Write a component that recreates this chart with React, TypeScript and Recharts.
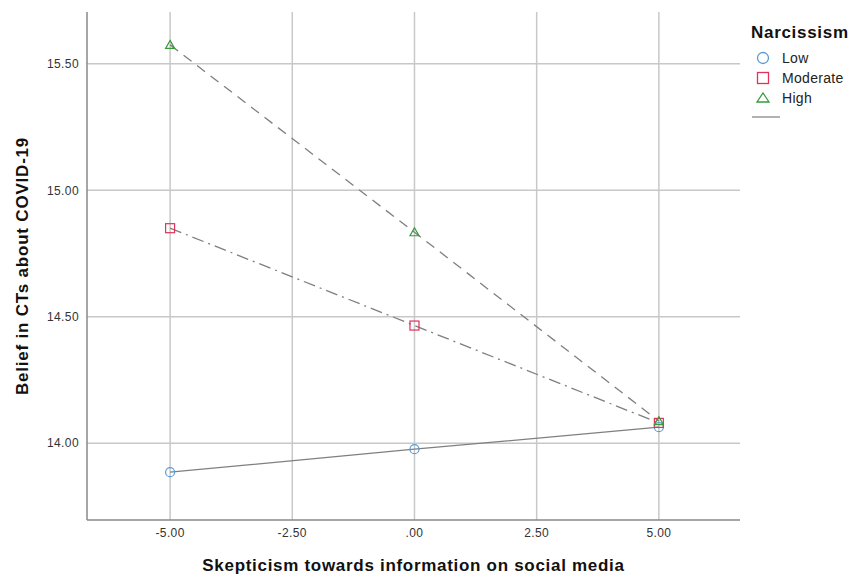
import { CartesianGrid, Label, Line, LineChart, XAxis, YAxis } from 'recharts';

const SKEPTICISM = [-5, 0, 5];
const LOW = [13.885, 13.976, 14.063];
const MODERATE = [14.85, 14.465, 14.08];
const HIGH = [15.575, 14.834, 14.087];

const X_TICKS = [-5, -2.5, 0, 2.5, 5];
const Y_TICKS = [14.0, 14.5, 15.0, 15.5];

const chartData = SKEPTICISM.map((x, i) => ({
  x,
  low: LOW[i],
  moderate: MODERATE[i],
  high: HIGH[i],
}));

const LINE_COLOR = '#7f7f7f';
const FONT = '"Liberation Sans", Arial, sans-serif';

const CircleDot = (props: any) => {
  const { cx, cy } = props;
  if (cx == null || cy == null) return null;
  return <circle cx={cx} cy={cy} r={4.5} fill="none" stroke="#5b9bd5" strokeWidth={1.2} />;
};

const SquareDot = (props: any) => {
  const { cx, cy } = props;
  if (cx == null || cy == null) return null;
  return <rect x={cx - 4.5} y={cy - 4.5} width={9} height={9} fill="none" stroke="#e0325a" strokeWidth={1.2} />;
};

const TriangleDot = (props: any) => {
  const { cx, cy } = props;
  if (cx == null || cy == null) return null;
  return (
    <polygon
      points={`${cx},${cy - 4.5} ${cx + 4.5},${cy + 3.5} ${cx - 4.5},${cy + 3.5}`}
      fill="none"
      stroke="#3a9a3a"
      strokeWidth={1.2}
    />
  );
};

function LegendBox() {
  const items = [
    { label: 'Low', shape: 'circle' },
    { label: 'Moderate', shape: 'square' },
    { label: 'High', shape: 'triangle' },
  ];
  return (
    <svg width={115} height={125} style={{ fontFamily: FONT, position: 'absolute', left: 751, top: 10 }}>
      <text x={0} y={28} fontSize={17} fontWeight="bold" fill="#111" letterSpacing={0.7}>
        Narcissism
      </text>
      {items.map((it, i) => {
        const cy = 48 + i * 20;
        const cx = 12;
        return (
          <g key={it.label}>
            {it.shape === 'circle' && <circle cx={cx} cy={cy} r={5.5} fill="none" stroke="#5b9bd5" strokeWidth={1.3} />}
            {it.shape === 'square' && (
              <rect x={cx - 5.5} y={cy - 5.5} width={11} height={11} fill="none" stroke="#e0325a" strokeWidth={1.3} />
            )}
            {it.shape === 'triangle' && (
              <polygon
                points={`${cx},${cy - 5} ${cx + 6},${cy + 4} ${cx - 6},${cy + 4}`}
                fill="none"
                stroke="#3a9a3a"
                strokeWidth={1.3}
              />
            )}
            <text x={31} y={cy + 5} fontSize={14} fill="#222" letterSpacing={0.3}>
              {it.label}
            </text>
          </g>
        );
      })}
      <line x1={1} x2={29} y1={107} y2={107} stroke="#999" strokeWidth={1.5} />
    </svg>
  );
}

export default function App() {
  return (
    <div style={{ position: 'absolute', top: 0, left: 0, width: 862, height: 577, background: '#fff' }}>
      <LineChart width={862} height={577} data={chartData} margin={{ top: 12, right: 122, left: 27, bottom: 27 }}>
        <CartesianGrid
          stroke="#c8c8c8"
          strokeWidth={1.5}
          horizontalValues={Y_TICKS}
          verticalValues={X_TICKS}
        />
        <XAxis
          dataKey="x"
          type="number"
          domain={[-6.7, 6.66]}
          ticks={X_TICKS}
          tickFormatter={(v: number) => (v === 0 ? '.00' : v.toFixed(2))}
          tick={{ fill: '#333', fontSize: 12, fontFamily: FONT, letterSpacing: 0.4 }}
          tickLine={false}
          axisLine={{ stroke: '#888', strokeWidth: 1.5 }}
          height={30}
          allowDataOverflow
        >
          <Label
            value="Skepticism towards information on social media"
            position="bottom"
            offset={9}
            style={{ fontSize: 17, fontWeight: 'bold', fill: '#111', fontFamily: FONT, letterSpacing: 0.7 }}
          />
        </XAxis>
        <YAxis
          type="number"
          domain={[13.696, 15.705]}
          ticks={Y_TICKS}
          tickFormatter={(v: number) => v.toFixed(2)}
          tick={{ fill: '#333', fontSize: 12, fontFamily: FONT, letterSpacing: 0.4 }}
          tickLine={false}
          axisLine={{ stroke: '#888', strokeWidth: 1.5 }}
          width={60}
          allowDataOverflow
        >
          <Label
            value="Belief in CTs about COVID-19"
            angle={-90}
            position="insideLeft"
            offset={-5}
            style={{
              fontSize: 17,
              fontWeight: 'bold',
              fill: '#111',
              fontFamily: FONT,
              textAnchor: 'middle',
              letterSpacing: 0.8,
            }}
          />
        </YAxis>
        <Line
          type="linear"
          dataKey="low"
          name="Low"
          stroke={LINE_COLOR}
          strokeWidth={1.3}
          dot={<CircleDot />}
          activeDot={false}
          isAnimationActive={false}
        />
        <Line
          type="linear"
          dataKey="moderate"
          name="Moderate"
          stroke={LINE_COLOR}
          strokeWidth={1.3}
          strokeDasharray="12 5 2 5"
          dot={<SquareDot />}
          activeDot={false}
          isAnimationActive={false}
        />
        <Line
          type="linear"
          dataKey="high"
          name="High"
          stroke={LINE_COLOR}
          strokeWidth={1.3}
          strokeDasharray="10 7"
          dot={<TriangleDot />}
          activeDot={false}
          isAnimationActive={false}
        />
      </LineChart>
      <LegendBox />
    </div>
  );
}
